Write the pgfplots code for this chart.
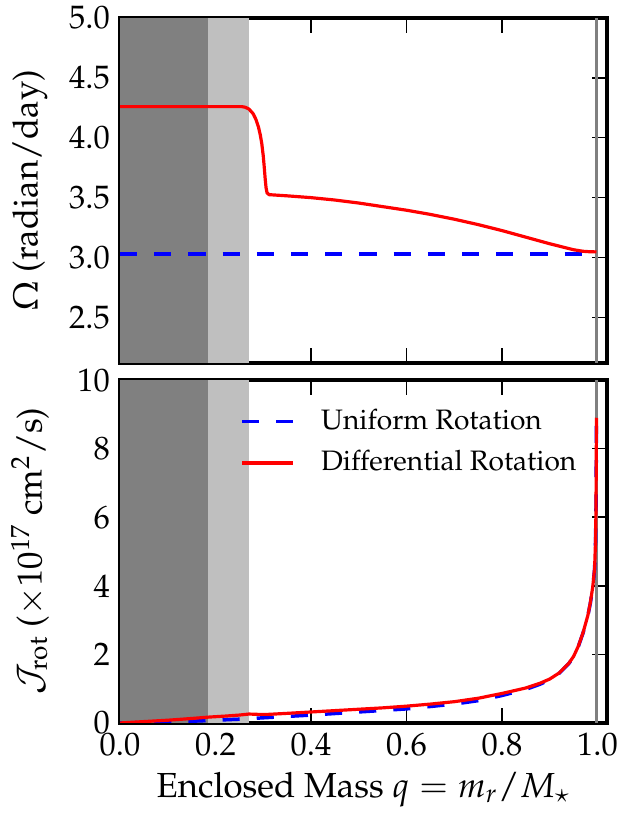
\documentclass[border=0pt]{standalone}
\usepackage[T1]{fontenc}
\usepackage{mathpazo}
\usepackage{pgfplots}
\pgfplotsset{compat=1.18}
\usetikzlibrary{calc}

\definecolor{coredark}{gray}{0.5}
\definecolor{corelight}{gray}{0.75}

\pgfplotsset{
  panel/.style={
    scale only axis, width=168pt,
    xmin=0, xmax=1.02,
    xtick={0,0.2,0.4,0.6,0.8,1.0},
    tick align=inside, major tick length=5.3pt,
    tick style={line width=0.5pt, black},
    axis line style={line width=1.5pt},
    tick label style={font=\fontsize{11.2}{13}\selectfont},
    xticklabel style={/pgf/number format/.cd, fixed, fixed zerofill, precision=1},
    every axis y label/.style={at={(axis description cs:-0.185,0.5)}, rotate=90,
      anchor=center, font=\fontsize{12}{14}\selectfont},
    every axis x label/.style={at={(axis description cs:0.5,-0.195)},
      anchor=center, font=\fontsize{12}{14}\selectfont},
  },
  unif/.style={blue, line width=1.2pt, dash pattern=on 5.9pt off 5.9pt},
  diff/.style={red, line width=1.1pt},
}

\begin{document}
\begin{tikzpicture}
\begin{axis}[panel, name=top, height=119pt,
  ymin=2.12, ymax=5, ytick={2.5,3,3.5,4,4.5,5},
  yticklabel style={/pgf/number format/.cd, fixed, fixed zerofill, precision=1},
  xticklabels={},
  ylabel={$\Omega$ (radian/day)}]
  \addplot[draw=none, fill=coredark, forget plot] coordinates {(0,2.12) (0.185,2.12) (0.185,5) (0,5)} -- cycle;
  \addplot[draw=none, fill=corelight, forget plot] coordinates {(0.185,2.12) (0.27,2.12) (0.27,5) (0.185,5)} -- cycle;
  \addplot[coredark, line width=0.8pt, forget plot] coordinates {(0.998,2.12) (0.998,5)};
  \addplot[unif] coordinates {(0,3.03) (0.985,3.03)};
  \addplot[diff] coordinates {
    (0,4.26) (0.255,4.26) (0.262,4.255) (0.27,4.24) (0.279,4.2) (0.285,4.15)
    (0.29,4.09) (0.294,4.02) (0.297,3.95) (0.3,3.85) (0.302,3.76) (0.304,3.66)
    (0.306,3.58) (0.308,3.54) (0.312,3.525) (0.35,3.515) (0.4,3.5) (0.45,3.48)
    (0.5,3.455) (0.55,3.425) (0.6,3.395) (0.65,3.36) (0.7,3.32) (0.75,3.275)
    (0.8,3.225) (0.85,3.17) (0.9,3.115) (0.93,3.085) (0.95,3.065) (0.97,3.052)
    (0.985,3.048) (0.998,3.047)};
\end{axis}

\begin{axis}[panel, name=bot, height=118.3pt,
  at={($(top.south)+(0,-5.9pt)$)}, anchor=north,
  ymin=0, ymax=10, ytick={0,2,4,6,8,10},
  ylabel={$\mathcal{J}_{\rm rot}$ ($\times 10^{17}$ cm$^2$/s)},
  xlabel={Enclosed Mass $q = m_r/M_\star$},
  legend style={draw=none, fill=none, at={(axis description cs:0.228,0.95)},
    anchor=north west, row sep=1.7pt, column sep=7pt,
    font=\fontsize{9.7}{11.5}\selectfont},
  legend cell align=left,
  legend image code/.code={\draw[#1] (0pt,0pt) -- (17.7pt,0pt);}]
  \addplot[draw=none, fill=coredark, forget plot] coordinates {(0,0) (0.185,0) (0.185,10) (0,10)} -- cycle;
  \addplot[draw=none, fill=corelight, forget plot] coordinates {(0.185,0) (0.27,0) (0.27,10) (0.185,10)} -- cycle;
  \addplot[coredark, line width=0.8pt, forget plot] coordinates {(0.998,0) (0.998,10)};
  \addplot[unif] coordinates {
    (0,0) (0.1,0.02) (0.15,0.05) (0.2,0.08) (0.25,0.11) (0.3,0.15) (0.4,0.23)
    (0.5,0.32) (0.6,0.41) (0.7,0.55) (0.75,0.65) (0.8,0.8) (0.85,0.98)
    (0.88,1.13) (0.9,1.26) (0.92,1.45) (0.94,1.73) (0.95,1.93) (0.96,2.23)
    (0.97,2.63) (0.98,3.13) (0.985,3.48) (0.99,3.93) (0.994,4.48) (0.996,5.28)
    (0.997,6.3) (0.998,8.8)};
  \addlegendentry{Uniform Rotation}
  \addplot[diff] coordinates {
    (0,0) (0.05,0.04) (0.1,0.08) (0.15,0.13) (0.185,0.17) (0.22,0.2)
    (0.25,0.23) (0.27,0.26) (0.29,0.25) (0.31,0.25) (0.35,0.28) (0.4,0.32)
    (0.45,0.36) (0.5,0.4) (0.55,0.44) (0.6,0.49) (0.65,0.55) (0.7,0.62)
    (0.75,0.72) (0.8,0.86) (0.85,1.02) (0.88,1.16) (0.9,1.28) (0.92,1.46)
    (0.94,1.74) (0.95,1.94) (0.96,2.24) (0.97,2.64) (0.98,3.14) (0.985,3.5)
    (0.99,3.95) (0.994,4.5) (0.996,5.3) (0.997,6.3) (0.998,8.9)};
  \addlegendentry{Differential Rotation}
\end{axis}

\pgfresetboundingbox
\path ([xshift=-41.4pt,yshift=6.2pt]top.north west) rectangle ([xshift=10.7pt,yshift=-32.1pt]bot.south east);
\end{tikzpicture}
\end{document}
